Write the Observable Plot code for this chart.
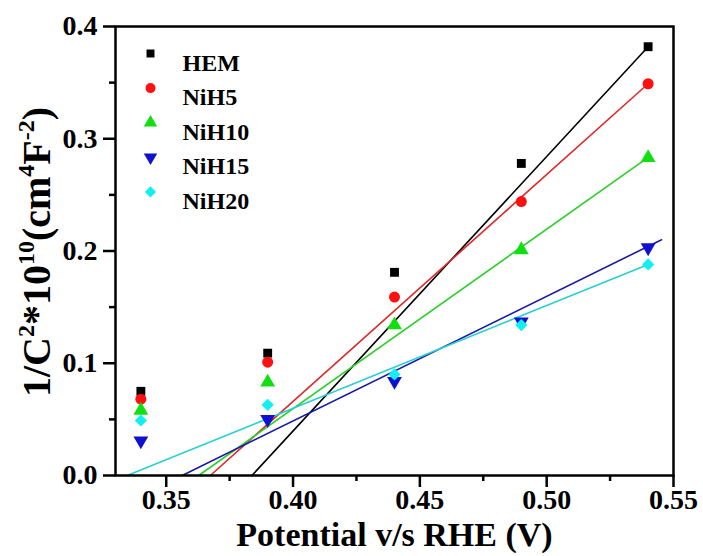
<!DOCTYPE html>
<html>
<head>
<meta charset="utf-8">
<script src="https://cdn.jsdelivr.net/npm/d3@7"></script>
<script src="https://cdn.jsdelivr.net/npm/@observablehq/plot@0.6"></script>
<style>
  html, body { margin: 0; padding: 0; background: #fff; }
  #chart { position: relative; width: 703px; height: 556px; }
  #chart svg text { font-family: 'Liberation Serif', 'Times New Roman', serif !important; font-weight: bold; }
</style>
</head>
<body>
<div id="chart"></div>
<script>
// ---- data ----
const potentials = [0.34, 0.39, 0.44, 0.49, 0.54];
const seriesNames = ["HEM", "NiH5", "NiH10", "NiH15", "NiH20"];
const hemValues   = [0.075, 0.109, 0.181, 0.278, 0.382];
const nih5Values  = [0.068, 0.101, 0.159, 0.244, 0.349];
const nih10Values = [0.058, 0.083, 0.134, 0.201, 0.283];
const nih15Values = [0.031, 0.050, 0.084, 0.137, 0.203];
const nih20Values = [0.049, 0.063, 0.090, 0.134, 0.188];
// linear fit lines: x-intercept and end point
const fitStartX = [0.3838, 0.3674, 0.3628, 0.3563, 0.3346];
const fitEndX   = [0.540, 0.540, 0.541, 0.5453, 0.540];
const fitEndY   = [0.382, 0.349, 0.285, 0.210, 0.188];
const xTicks = [0.35, 0.40, 0.45, 0.50, 0.55];
const xMinorTicks = [0.375, 0.425, 0.475, 0.525];
const yTicks = [0.0, 0.1, 0.2, 0.3, 0.4];
const yMinorTicks = [0.05, 0.15, 0.25, 0.35];

// ---- styles ----
const markerColors = ["#000000", "#ff1010", "#10e010", "#1010d0", "#10f0f0"];
const lineColors   = ["#000000", "#e02a2a", "#2ad02a", "#1a1aa8", "#2ad0d0"];
const symbols = ["square", "circle", "triangle", "triangle", "diamond2"];
const rotations = [0, 0, 0, 180, 0];
const fontFamily = "'Liberation Serif', 'Times New Roman', serif";

const valueArrays = [hemValues, nih5Values, nih10Values, nih15Values, nih20Values];
const points = seriesNames.flatMap((name, i) =>
  potentials.map((x, j) => ({series: name, idx: i, x, y: valueArrays[i][j]})));
const fits = seriesNames.map((name, i) => [
  {series: name, x: fitStartX[i], y: 0},
  {series: name, x: fitEndX[i], y: fitEndY[i]}
]);

const marks = [];
fits.forEach((f, i) => {
  marks.push(Plot.line(f, {x: "x", y: "y", stroke: lineColors[i], strokeWidth: 1.6}));
});
seriesNames.forEach((name, i) => {
  marks.push(Plot.dot(points.filter(d => d.idx === i), {
    x: "x", y: "y", symbol: () => symbols[i], fill: markerColors[i],
    r: i === 0 ? 5 : 5.5, rotate: rotations[i], stroke: "none"
  }));
});
// legend
seriesNames.forEach((name, i) => {
  marks.push(Plot.dot([name], {
    frameAnchor: "top-left", dx: 35, dy: 27 + i * 34.6,
    symbol: () => symbols[i], fill: markerColors[i], r: i === 0 ? 4.5 : 5, rotate: rotations[i]
  }));
  marks.push(Plot.text([name], {
    frameAnchor: "top-left", dx: 67, dy: 27 + i * 34.6, text: d => d,
    textAnchor: "start", fontSize: 24, fontWeight: "bold", fill: "#000", fontFamily
  }));
});
marks.push(
  Plot.axisX({ticks: xTicks, tickSize: 12, tickPadding: 2, tickFormat: d3.format(".2f"),
    fontSize: 28, fontWeight: "bold", fontFamily, strokeWidth: 2.5,
    label: "Potential v/s RHE (V)", labelAnchor: "center", labelArrow: "none", labelOffset: 70}),
  Plot.axisX({ticks: xMinorTicks, tickSize: 6, tickFormat: () => "", strokeWidth: 2.5, label: null}),
  Plot.axisY({ticks: yTicks, tickSize: 12, tickPadding: 6, tickFormat: d3.format(".1f"),
    fontSize: 28, fontWeight: "bold", fontFamily, strokeWidth: 2.5, label: null}),
  Plot.axisY({ticks: yMinorTicks, tickSize: 6, tickFormat: () => "", strokeWidth: 2.5, label: null}),
  Plot.frame({stroke: "#000", strokeWidth: 2.5})
);

const plot = Plot.plot({
  width: 703,
  height: 556,
  marginLeft: 115,
  marginRight: 30,
  marginTop: 26,
  marginBottom: 81,
  style: {fontFamily, background: "#fff", color: "#000"},
  x: {domain: [0.33, 0.55]},
  y: {domain: [0, 0.4]},
  marks
});

const svg = d3.select(plot);
svg.selectAll("[aria-label='x-axis label'] text")
  .attr("font-size", 34).attr("font-weight", "bold");

// y-axis title with superscripts
const yt = svg.append("text")
  .attr("transform", "translate(50,252) rotate(-90)")
  .attr("text-anchor", "middle")
  .attr("font-family", fontFamily)
  .attr("font-weight", "bold")
  .attr("font-size", 40)
  .attr("fill", "#000");
const sup = 24, shift = 16;
yt.append("tspan").text("1/C");
yt.append("tspan").attr("font-size", sup).attr("dy", -shift).text("2");
yt.append("tspan").attr("dy", shift).text("*10");
yt.append("tspan").attr("font-size", sup).attr("dy", -shift).text("10");
yt.append("tspan").attr("dy", shift).text("(cm");
yt.append("tspan").attr("font-size", sup).attr("dy", -shift).text("4");
yt.append("tspan").attr("dy", shift).text("F");
yt.append("tspan").attr("font-size", sup).attr("dy", -shift).text("-2");
yt.append("tspan").attr("dy", shift).text(")");

document.getElementById("chart").appendChild(plot);
</script>
</body>
</html>
